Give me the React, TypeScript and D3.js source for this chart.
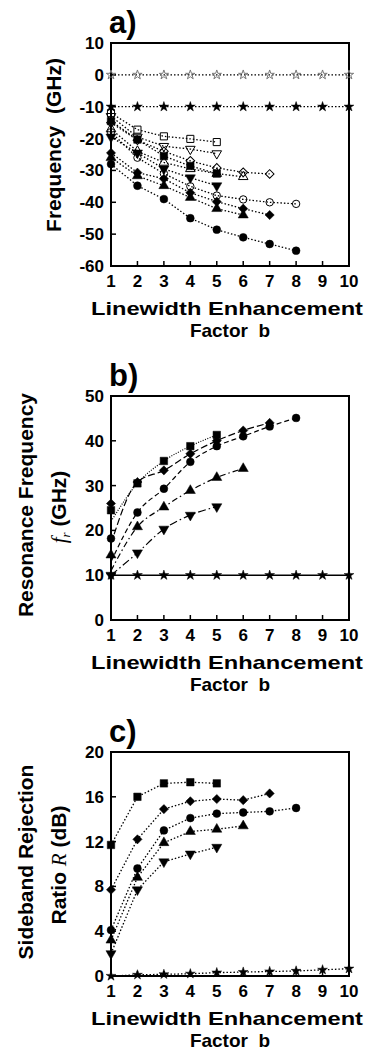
import React from "react";
import * as d3 from "d3";

// x axis: linewidth enhancement factor b
const factorB = [1, 2, 3, 4, 5, 6, 7, 8, 9, 10];

// a) frequency (GHz)
const aOpenStar = [0, 0, 0, 0, 0, 0, 0, 0, 0, 0];
const aStar = [-10, -10, -10, -10, -10, -10, -10, -10, -10, -10];
const aOpenSquare = [-12, -17.2, -19.3, -20.1, -21.1];
const aOpenTriDown = [-13, -19.5, -22.4, -23.3, -24.7];
const aOpenDiamond = [-15, -20.5, -24, -27, -29.2, -30.6, -31.1];
const aOpenTriUp = [-17, -24, -27.5, -29.5, -31, -32];
const aOpenCircle = [-18, -26, -31, -35, -37.9, -39.1, -40, -40.5];
const aSquare = [-14.5, -20.3, -25.5, -28.6, -31];
const aTriDown = [-19.5, -24.5, -29.5, -32.3, -34.8];
const aDiamond = [-24.5, -30.7, -32.6, -37, -39.8, -42, -44];
const aTriUp = [-26, -31.7, -34.8, -38.5, -42, -44];
const aCircle = [-28, -34.8, -39, -45, -48.6, -51, -53.1, -55.2];

// b) resonance frequency (GHz)
const bSquare = [24.5, 30.5, 35.5, 38.8, 41.3];
const bDiamond = [26, 30.8, 33.4, 37.1, 40, 42.3, 44];
const bCircle = [18.2, 24, 29.3, 35.3, 38.8, 41, 43.2, 45.1];
const bTriUp = [14.5, 20.8, 25.2, 28.9, 31.8, 33.8];
const bTriDown = [10, 15, 20.3, 23.4, 25.3];
const bStar = [10, 10, 10, 10, 10, 10, 10, 10, 10, 10];
// fitted curves start near b = 1
const bFitStart = [22, 17, 13, 11, 10];

// c) sideband rejection ratio (dB)
const cSquare = [11.7, 16, 17.2, 17.3, 17.2];
const cDiamond = [7.7, 12.2, 14.9, 15.6, 15.8, 15.7, 16.3];
const cCircle = [4.1, 9.6, 13, 14.1, 14.5, 14.6, 14.7, 15];
const cTriUp = [3.2, 8.8, 11.9, 12.9, 13.1, 13.4];
const cTriDown = [2, 7.7, 10.2, 10.9, 11.5];
const cStar = [0, 0.1, 0.15, 0.2, 0.3, 0.35, 0.4, 0.45, 0.55, 0.65];

const aTicks = [10, 0, -10, -20, -30, -40, -50, -60];
const bTicks = [0, 10, 20, 30, 40, 50];
const cTicks = [0, 4, 8, 12, 16, 20];

const FONT = "'Liberation Sans', Arial, Helvetica, sans-serif";
const SERIF = "'Liberation Serif', 'DejaVu Serif', serif";
const L = 111;
const R = 349;

const x = d3.scaleLinear().domain([1, 10]).range([L, R]);

const symbolPath = (shape: string, filled: boolean) => {
  const sz: Record<string, number> = { star: 30, square: 56, circle: 48, tri: 44, diamond: 42 };
  const types: Record<string, any> = {
    star: d3.symbolStar,
    square: d3.symbolSquare,
    circle: d3.symbolCircle,
    tri: d3.symbolTriangle,
    triDown: d3.symbolTriangle,
    diamond: d3.symbolSquare,
  };
  const s = shape === "triDown" ? sz.tri : sz[shape];
  return d3.symbol(types[shape], filled ? s : s * 0.9)() as string;
};

const Marker = ({ shape, filled, cx, cy, color = "#000" }: any) => {
  let rot = 0;
  if (shape === "triDown") rot = 180;
  if (shape === "diamond") rot = 45;
  return (
    <path
      d={symbolPath(shape, filled)}
      transform={`translate(${cx},${cy}) rotate(${rot})`}
      fill={filled ? color : "none"}
      stroke={color}
      strokeWidth={filled ? 0.5 : 1}
    />
  );
};

const Series = ({ y, values, shape, filled, dash, color, width = 1.3, fit }: any) => {
  const pts: [number, number][] = values.map((v: number, i: number) => [factorB[i], v]);
  const linePts = fit !== undefined ? [[1, fit], ...pts.slice(1)] : pts;
  const line = d3
    .line<number[]>()
    .x((d) => x(d[0]))
    .y((d) => y(d[1]))
    .curve(fit !== undefined ? d3.curveMonotoneX : d3.curveLinear);
  return (
    <g>
      <path d={line(linePts as any) as string} fill="none" stroke="#000" strokeWidth={width} strokeDasharray={dash} />
      {pts.map((p, i) => (
        <Marker key={i} shape={shape} filled={filled} cx={x(p[0])} cy={y(p[1])} color={color} />
      ))}
    </g>
  );
};

const Frame = ({ y, top, bottom, ticks, label }: any) => (
  <g fontFamily={FONT} fontWeight="bold">
    <text x={L - 2} y={top - 10} fontSize={31}>{label}</text>
    <rect x={L} y={top} width={R - L} height={bottom - top} fill="none" stroke="#000" strokeWidth={2} />
    {factorB.map((b) => (
      <g key={b}>
        <line x1={x(b)} x2={x(b)} y1={bottom} y2={bottom - 5} stroke="#000" strokeWidth={1.5} />
        <text x={x(b)} y={bottom + 21} fontSize={17} textAnchor="middle">{b}</text>
      </g>
    ))}
    {ticks.map((t: number) => (
      <g key={t}>
        <line x1={L} x2={L + 5} y1={y(t)} y2={y(t)} stroke="#000" strokeWidth={1.5} />
        <text x={L - 7} y={y(t) + 6} fontSize={17} textAnchor="end">{t}</text>
      </g>
    ))}
    <text x={227} y={bottom + 49} fontSize={19} textAnchor="middle" textLength={272} lengthAdjust="spacingAndGlyphs">
      Linewidth Enhancement
    </text>
    <text x={230} y={bottom + 71} fontSize={19} textAnchor="middle" style={{ whiteSpace: "pre" }}>Factor  b</text>
  </g>
);

const dot = "1.5,2";

export default function App() {
  const yA = d3.scaleLinear().domain([-60, 10]).range([266, 43]);
  const yB = d3.scaleLinear().domain([0, 50]).range([620, 396]);
  const yC = d3.scaleLinear().domain([0, 20]).range([976, 752]);

  const aSeries = [
    { values: aOpenStar, shape: "star", filled: false, color: "#777" },
    { values: aStar, shape: "star", filled: true },
    { values: aOpenSquare, shape: "square", filled: false },
    { values: aOpenTriDown, shape: "triDown", filled: false },
    { values: aOpenDiamond, shape: "diamond", filled: false },
    { values: aOpenTriUp, shape: "tri", filled: false },
    { values: aOpenCircle, shape: "circle", filled: false },
    { values: aSquare, shape: "square", filled: true },
    { values: aTriDown, shape: "triDown", filled: true },
    { values: aDiamond, shape: "diamond", filled: true },
    { values: aTriUp, shape: "tri", filled: true },
    { values: aCircle, shape: "circle", filled: true },
  ];

  const bSeries = [
    { values: bSquare, shape: "square", dash: "1,1.5", fit: bFitStart[0] },
    { values: bDiamond, shape: "diamond", dash: "7,3", fit: bFitStart[1] },
    { values: bCircle, shape: "circle", dash: "5,3", fit: bFitStart[2] },
    { values: bTriUp, shape: "tri", dash: "6,3,1.5,3", fit: bFitStart[3] },
    { values: bTriDown, shape: "triDown", dash: "8,3,1.5,3", fit: bFitStart[4] },
  ];

  const cSeries = [
    { values: cSquare, shape: "square" },
    { values: cDiamond, shape: "diamond" },
    { values: cCircle, shape: "circle" },
    { values: cTriUp, shape: "tri" },
    { values: cTriDown, shape: "triDown" },
    { values: cStar, shape: "star" },
  ];

  return (
    <svg width={371} height={1051} style={{ position: "absolute", left: 0, top: 0, background: "#fff" }}>
      {/* panel a */}
      <Frame y={yA} top={43} bottom={266} ticks={aTicks} label="a)" />
      {aSeries.map((s, i) => (
        <Series key={i} y={yA} values={s.values} shape={s.shape} filled={s.filled} color={s.color} dash={dot} />
      ))}
      <text transform="translate(61,145) rotate(-90)" fontFamily={FONT} fontWeight="bold" fontSize={21} textAnchor="middle" style={{ whiteSpace: "pre" }}>
        Frequency  (GHz)
      </text>

      {/* panel b */}
      <Frame y={yB} top={396} bottom={620} ticks={bTicks} label="b)" />
      <Series y={yB} values={bStar} shape="star" filled={true} width={1.5} />
      {bSeries.map((s, i) => (
        <Series key={i} y={yB} values={s.values} shape={s.shape} filled={true} dash={s.dash} fit={s.fit} width={1.2} />
      ))}
      <text transform="translate(33,505) rotate(-90)" fontFamily={FONT} fontWeight="bold" fontSize={21} textAnchor="middle">
        Resonance Frequency
      </text>
      <text transform="translate(66,507) rotate(-90)" fontFamily={FONT} fontWeight="bold" fontSize={21} textAnchor="middle">
        <tspan fontFamily={SERIF} fontStyle="italic" fontWeight="normal">f</tspan>
        <tspan fontFamily={SERIF} fontStyle="italic" fontWeight="normal" fontSize={13} dy={4}>r</tspan>
        <tspan dy={-4}> (GHz)</tspan>
      </text>

      {/* panel c */}
      <Frame y={yC} top={752} bottom={976} ticks={cTicks} label="c)" />
      {cSeries.map((s, i) => (
        <Series key={i} y={yC} values={s.values} shape={s.shape} filled={true} dash={dot} />
      ))}
      <text transform="translate(33,862) rotate(-90)" fontFamily={FONT} fontWeight="bold" fontSize={21} textAnchor="middle">
        Sideband Rejection
      </text>
      <text transform="translate(66,865) rotate(-90)" fontFamily={FONT} fontWeight="bold" fontSize={21} textAnchor="middle">
        Ratio{" "}
        <tspan fontFamily={SERIF} fontStyle="italic" fontWeight="normal">R</tspan>
        {" "}(dB)
      </text>
    </svg>
  );
}
